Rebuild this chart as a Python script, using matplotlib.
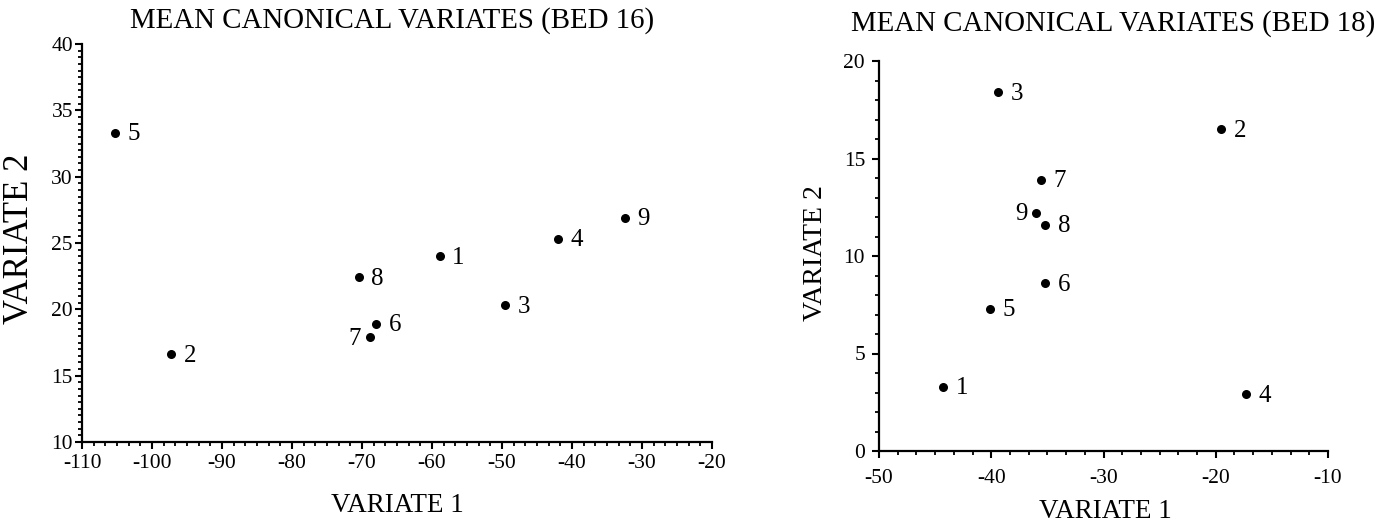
import matplotlib
matplotlib.use("Agg")
import matplotlib.pyplot as plt
from matplotlib.ticker import MultipleLocator, AutoMinorLocator

plt.rcParams['font.family'] = ['Liberation Serif', 'DejaVu Serif']
plt.rcParams['axes.unicode_minus'] = False

# ---- data ----
bed16_labels = ['1', '2', '3', '4', '5', '6', '7', '8', '9']
bed16_v1 = [-58.9, -97.3, -49.6, -42.0, -105.3, -68.0, -68.9, -70.5, -32.4]
bed16_v2 = [24.0, 16.6, 20.3, 25.3, 33.3, 18.9, 17.9, 22.4, 26.9]

bed18_labels = ['1', '2', '3', '4', '5', '6', '7', '8', '9']
bed18_v1 = [-44.3, -19.5, -39.4, -17.3, -40.1, -35.2, -35.6, -35.2, -36.0]
bed18_v2 = [3.3, 16.5, 18.4, 2.9, 7.3, 8.6, 13.9, 11.6, 12.2]

# labels placed on the left of their point
left16 = {'7'}
left18 = {'9'}

W, H = 1387, 527
fig = plt.figure(figsize=(W / 100, H / 100), dpi=100)

def px_axes(x0, x1, y_top, y_bot):
    return fig.add_axes([x0 / W, 1 - y_bot / H, (x1 - x0) / W, (y_bot - y_top) / H])

ax1 = px_axes(82, 712, 44, 442)
ax2 = px_axes(879, 1328, 61, 451)

def style(ax, xlim, ylim, xmaj, ymaj, xminor_n, yminor_n, xpad, ypad):
    ax.set_xlim(*xlim)
    ax.set_ylim(*ylim)
    for s in ('top', 'right'):
        ax.spines[s].set_visible(False)
    for s in ('left', 'bottom'):
        ax.spines[s].set_linewidth(1.6)
    ax.xaxis.set_major_locator(MultipleLocator(xmaj))
    ax.yaxis.set_major_locator(MultipleLocator(ymaj))
    ax.xaxis.set_minor_locator(AutoMinorLocator(xminor_n))
    ax.yaxis.set_minor_locator(AutoMinorLocator(yminor_n))
    ax.tick_params(which='major', direction='out', length=5, width=1.5, labelsize=15.5)
    ax.tick_params(which='minor', direction='out', length=2.8, width=1.3)
    ax.tick_params(axis='x', which='major', pad=xpad)
    ax.tick_params(axis='y', which='major', pad=ypad)

style(ax1, (-110, -20), (10, 40), 10, 5, 6, 10, 4, 1.5)
style(ax2, (-50, -10), (0, 20), 10, 5, 6, 5, 8, 5)

def draw(ax, xs, ys, labels, left_set):
    ax.scatter(xs, ys, s=30, color='black', zorder=3, clip_on=False)
    for x, y, lab in zip(xs, ys, labels):
        if lab in left_set:
            ax.annotate(lab, (x, y), xytext=(-6, -1), textcoords='offset points',
                        ha='right', va='center', fontsize=18)
        else:
            ax.annotate(lab, (x, y), xytext=(9, -1), textcoords='offset points',
                        ha='left', va='center', fontsize=18)

draw(ax1, bed16_v1, bed16_v2, bed16_labels, left16)
draw(ax2, bed18_v1, bed18_v2, bed18_labels, left18)

# titles and axis labels
fig.text(392 / W, 1 - 21 / H, 'MEAN CANONICAL VARIATES (BED 16)', ha='center', va='center', fontsize=20.8)
fig.text(1113 / W, 1 - 24 / H, 'MEAN CANONICAL VARIATES (BED 18)', ha='center', va='center', fontsize=20.8)

fig.text(397 / W, 1 - 506 / H, 'VARIATE 1', ha='center', va='center', fontsize=19.5)
fig.text(1105 / W, 1 - 512 / H, 'VARIATE 1', ha='center', va='center', fontsize=19.5)
fig.text(20 / W, 1 - 239 / H, 'VARIATE 2', ha='center', va='center', rotation=90, fontsize=25)
fig.text(816 / W, 1 - 253 / H, 'VARIATE 2', ha='center', va='center', rotation=90, fontsize=20)

fig.savefig('out.png', dpi=100)
